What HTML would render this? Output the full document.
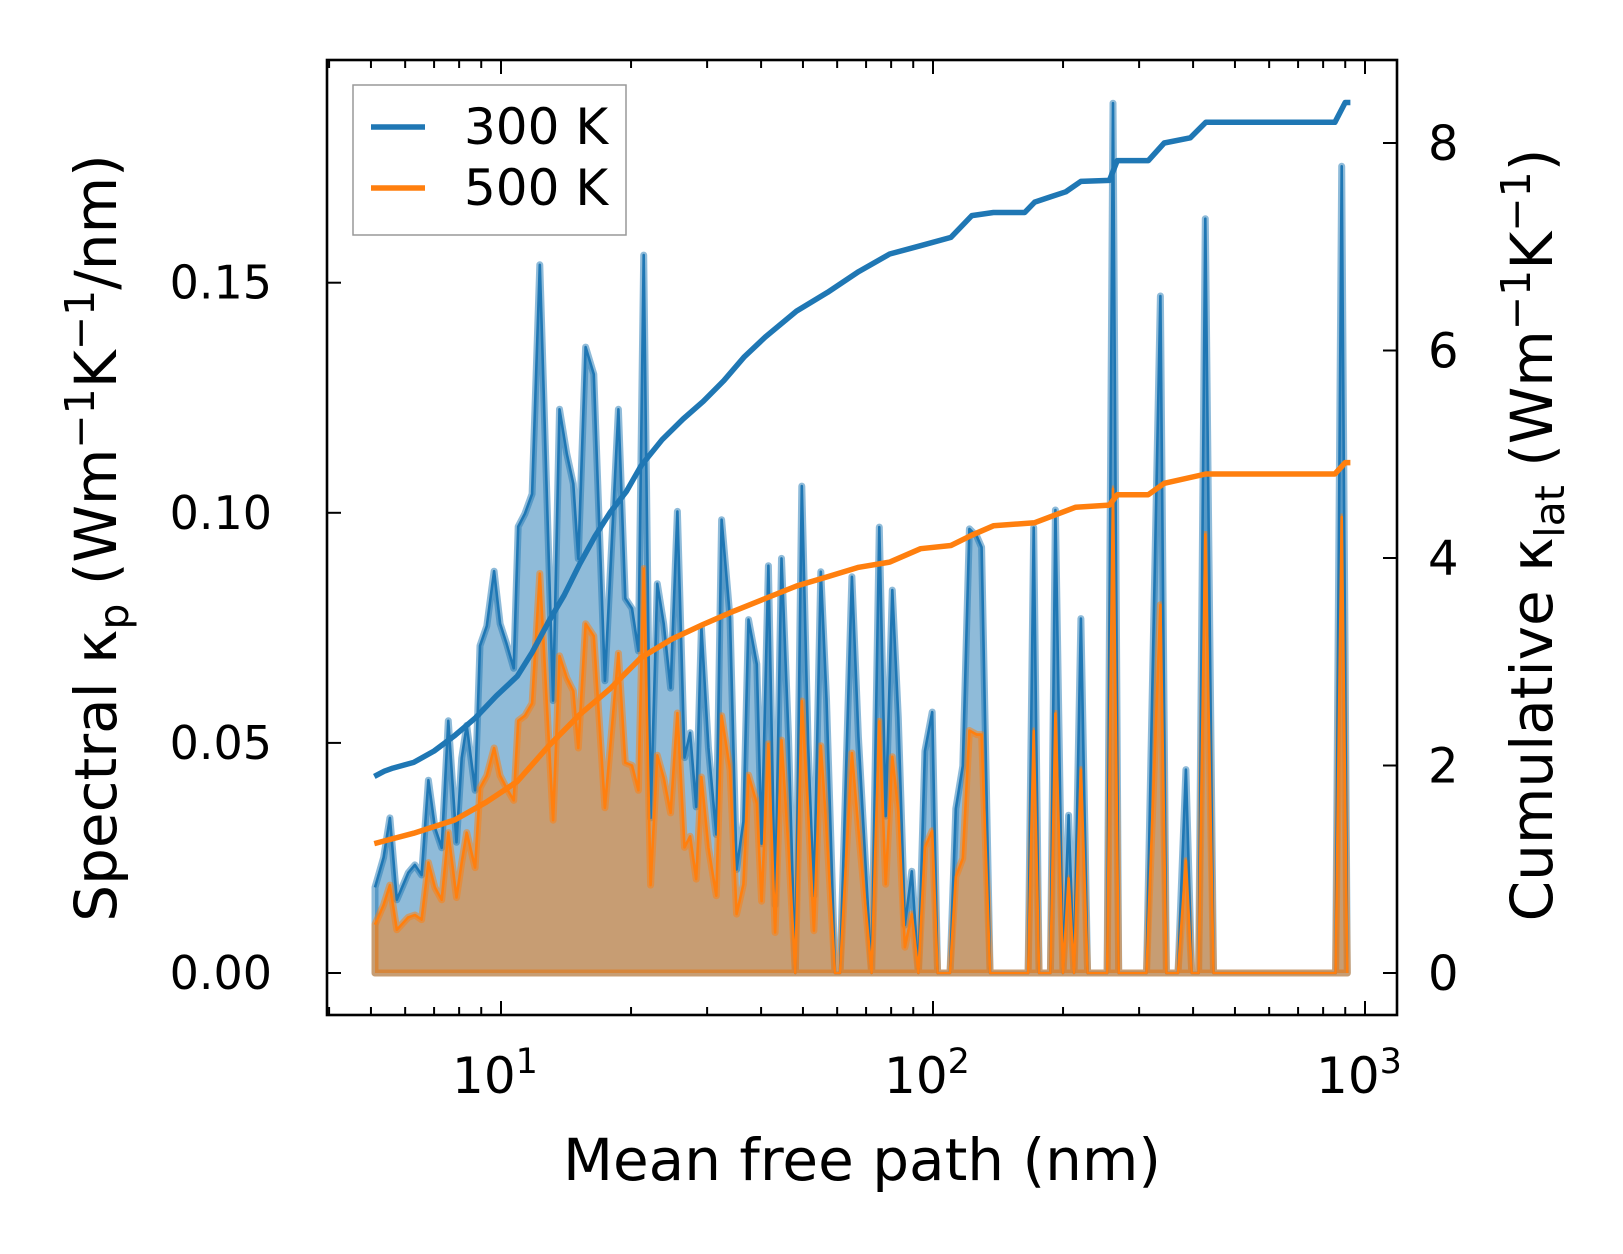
<!DOCTYPE html>
<html><head><meta charset="utf-8"><style>
html,body{margin:0;padding:0;background:#fff;}
svg{display:block;font-family:"DejaVu Sans","Liberation Sans",sans-serif;}
</style></head><body>
<svg id="chart" width="1623" height="1254" viewBox="0 0 1623 1254" xmlns="http://www.w3.org/2000/svg">
<g id="plot"></g>
<g id="axes"></g>
</svg>
<script>
const mfp = [5.11,5.35,5.53,5.74,6.10,6.32,6.55,6.79,7.03,7.29,7.55,7.89,8.11,8.33,8.71,8.94,9.27,9.64,9.95,10.3,10.7,10.96,11.36,11.8,12.3,13.2,13.66,14.2,14.7,15.1,15.7,16.4,17.4,18.7,19.4,20.1,20.8,21.4,22.2,23.0,23.8,24.7,25.6,26.6,27.4,28.3,29.1,30.2,31.5,32.4,33.9,35.1,36.4,37.4,39.1,40.1,41.6,43.1,44.6,46.3,48.0,49.7,51.4,53.0,55.0,56.7,59.3,60.9,64.9,67.2,72.1,75.1,77.7,80.5,83.1,86.1,89.3,92.5,95.8,99.6,102.5,109.5,112.9,117.2,121.4,126.3,129.6,135.6,166,171,176,187,192,200,206,212,220,228,253,261,269,312,336,347,369,385,397,412,427,446,855,883,910];
const spec300 = [.0186,.0251,.0337,.0159,.0218,.0235,.0213,.0419,.0316,.0272,.0548,.0284,.0467,.0538,.0397,.0711,.0754,.0873,.0759,.0716,.0662,.0970,.0998,.1041,.1539,.0592,.1225,.1128,.1063,.0900,.1360,.1301,.0635,.1225,.0814,.0792,.0700,.1560,.0337,.0846,.0759,.0619,.1003,.0468,.0522,.0361,.0752,.0490,.0301,.0985,.0772,.0225,.0329,.0768,.0671,.0281,.0885,.0148,.0901,.0514,0,.1058,.0498,.0168,.0872,.0595,0,0,.0861,.0514,0,.0969,.0341,.0832,.0555,.0104,.0221,0,.0482,.0567,0,0,.0357,.0450,.0965,.0949,.0925,0,0,.0968,0,0,.1006,0,.0343,0,.0770,0,0,.1890,0,0,.1471,0,0,.0442,0,0,.1639,0,0,.1753,0];
const spec500 = [.0105,.0148,.0191,.0094,.0121,.0126,.0116,.0240,.0186,.0159,.0305,.0164,.0240,.0305,.0229,.0402,.0429,.0489,.0429,.0402,.0375,.0548,.0559,.0586,.0868,.0332,.0689,.0641,.0613,.0489,.0759,.0732,.0359,.0695,.0457,.0451,.0397,.0879,.0191,.0473,.0424,.0348,.0565,.0273,.0297,.0204,.0426,.0273,.0168,.0559,.0442,.0128,.0193,.0430,.0369,.0156,.0498,.0088,.0506,.0273,0,.0591,.0353,.0092,.0494,.0313,0,0,.0478,.0313,0,.0547,.0193,.0470,.0353,.0056,.0128,0,.0273,.0309,0,0,.0209,.0249,.0527,.0518,.0518,0,0,.0526,0,0,.0564,0,.0206,0,.0442,0,0,.1052,0,0,.0800,0,0,.0244,0,0,.0953,0,0,.0991,0];
const cumX = [5.09,5.37,5.62,6.28,7.00,7.82,8.73,9.75,10.9,11.8,12.9,14.0,15.2,16.5,17.9,19.5,21.1,23.6,26.4,29.4,32.8,36.6,40.9,48.3,57.0,67.3,79.4,93.6,110,123,138,163,172,187,203,220,256,267,315,343,394,428,852,900,925];
const cum300 = [1.895,1.945,1.975,2.03,2.14,2.29,2.46,2.67,2.86,3.09,3.39,3.64,3.94,4.21,4.44,4.64,4.89,5.14,5.34,5.51,5.71,5.94,6.13,6.38,6.56,6.76,6.93,7.01,7.09,7.30,7.33,7.33,7.43,7.48,7.53,7.63,7.64,7.83,7.83,8.00,8.05,8.20,8.20,8.39,8.39];
const cumX5 = [5.09,6.28,7.82,9.24,10.9,12.9,15.2,17.9,21.1,24.9,29.4,34.7,40.9,48.3,57.0,67.3,79.4,93.6,110,123,138,172,214,256,267,315,343,428,852,900,925];
const cum500 = [1.247,1.347,1.476,1.646,1.845,2.19,2.49,2.74,3.04,3.22,3.36,3.49,3.61,3.73,3.82,3.91,3.96,4.09,4.12,4.22,4.31,4.34,4.49,4.51,4.61,4.61,4.72,4.81,4.81,4.92,4.92];
const yTicksL = [0,0.05,0.10,0.15];
const yTickLabelsL = ["0.00","0.05","0.10","0.15"];
const yTicksR = [0,2,4,6,8];
const xDecades = [1,2,3];

const L=327,R=1397,T=60,B=1015;
const X = v => 501 + (Math.log10(v)-1)*432;
const YL = v => 973 - v/0.05*230.1;
const YR = v => 973 - v/2*207.5;
const NS="http://www.w3.org/2000/svg";
const plot=document.getElementById('plot'), axes=document.getElementById('axes');
function mk(tag, attrs, parent){const e=document.createElementNS(NS,tag);for(const k in attrs)e.setAttribute(k,attrs[k]);parent.appendChild(e);return e;}

function areaPath(ys){let d=`M${X(mfp[0]).toFixed(1)},${YL(0)}`;ys.forEach((v,i)=>{d+=` L${X(mfp[i]).toFixed(1)},${YL(v).toFixed(1)}`;});d+=` L${X(mfp[mfp.length-1]).toFixed(1)},${YL(0)} Z`;return d;}
function linePath(xs,ys,fy){return xs.map((x,i)=>(i?'L':'M')+X(x).toFixed(1)+','+fy(ys[i]).toFixed(1)).join(' ');}

[[spec300,'31,119,180','300'],[spec500,'255,127,14','500']].forEach(([ys,rgb,t])=>{
  const a=mk('path',{d:areaPath(ys),fill:`rgba(${rgb},0.5)`,stroke:`rgba(${rgb},0.5)`,'stroke-width':7,'stroke-linejoin':'round'},plot);
  
  
});
[[spec300,'#1f77b4','300'],[spec500,'#ff7f0e','500']].forEach(([ys,col,t])=>{
  const l=mk('path',{d:linePath(mfp,ys,YL),fill:'none',stroke:col,'stroke-width':2.6,'stroke-linejoin':'round'},plot);
  
  
});
[[cumX,cum300,'#1f77b4','300'],[cumX5,cum500,'#ff7f0e','500']].forEach(([xs,ys,col,t])=>{
  const l=mk('path',{d:linePath(xs,ys,YR),fill:'none',stroke:col,'stroke-width':5.5,'stroke-linejoin':'round'},plot);
  
  
});

const fr=mk('rect',{x:L,y:T,width:R-L,height:B-T,fill:'none',stroke:'#000','stroke-width':2.6},axes);


for(let d=0; d<=3; d++){
  for(let m=1;m<=9;m++){
    const v=m*Math.pow(10,d); const x=X(v);
    if(x<L+1||x>R-1) continue;
    const len = m===1?14:8;
    mk('line',{x1:x,y1:B,x2:x,y2:B-len,stroke:'#000','stroke-width':2},axes);
    mk('line',{x1:x,y1:T,x2:x,y2:T+len,stroke:'#000','stroke-width':2},axes);
  }
}
xDecades.forEach(p=>{
  const t=mk('text',{x:X(Math.pow(10,p))-6,y:1093,'font-size':50,'text-anchor':'middle',fill:'#000'},axes);
  
  
  t.innerHTML='10<tspan dy="-20" font-size="35">'+p+'</tspan>';
});
yTicksL.forEach((v,i)=>{
  const y=YL(v);
  mk('line',{x1:L,y1:y,x2:L+14,y2:y,stroke:'#000','stroke-width':2},axes);
  const t=mk('text',{x:272,y:y+16,'font-size':46,'text-anchor':'end',fill:'#000'},axes);
  
  
  t.textContent=yTickLabelsL[i];
});
yTicksR.forEach(v=>{
  const y=YR(v);
  mk('line',{x1:R,y1:y,x2:R-14,y2:y,stroke:'#000','stroke-width':2},axes);
  const t=mk('text',{x:1428,y:y+17,'font-size':48,'text-anchor':'start',fill:'#000'},axes);
  
  
  t.textContent=v;
});
</script>
<div style="position:absolute;left:0;top:0;width:1623px;height:1254px;pointer-events:none">
<svg width="1623" height="1254" style="font-family:'DejaVu Sans','Liberation Sans',sans-serif">
  <text x="862" y="1180" font-size="58" text-anchor="middle">Mean free path (nm)</text>
  <text transform="translate(116,538) rotate(-90)" font-size="58" text-anchor="middle">Spectral κ<tspan dy="12" font-size="41">p</tspan><tspan dy="-12"> (Wm</tspan><tspan dy="-22" font-size="41">−1</tspan><tspan dy="22">K</tspan><tspan dy="-22" font-size="41">−1</tspan><tspan dy="22">/nm)</tspan></text>
  <text transform="translate(1552,535) rotate(-90)" font-size="58" text-anchor="middle">Cumulative κ<tspan dy="12" font-size="41">lat</tspan><tspan dy="-12"> (Wm</tspan><tspan dy="-22" font-size="41">−1</tspan><tspan dy="22">K</tspan><tspan dy="-22" font-size="41">−1</tspan><tspan dy="22">)</tspan></text>
  <g>
    <rect x="353" y="85" width="273" height="150" fill="#fff" fill-opacity="0.8" stroke="#999" stroke-width="1.5"/>
    <line x1="371" y1="127" x2="425" y2="127" stroke="#1f77b4" stroke-width="5.5"/>
    <text x="464" y="144" font-size="50">300 K</text>
    <line x1="371" y1="188" x2="425" y2="188" stroke="#ff7f0e" stroke-width="5.5"/>
    <text x="464" y="205" font-size="50">500 K</text>
  </g>
</svg>
</div>
</body></html>
